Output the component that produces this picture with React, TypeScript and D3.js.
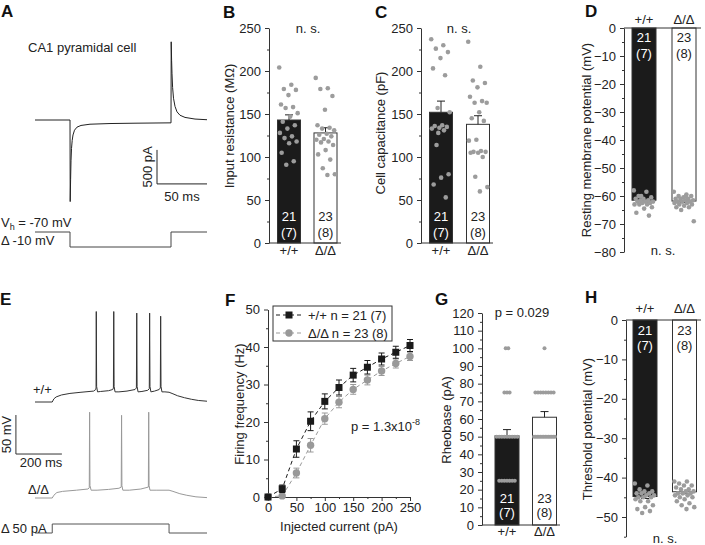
import React, { useEffect, useRef } from 'react';
import * as d3 from 'd3';

const FONT = '"Liberation Sans", Arial, Helvetica, sans-serif';
const INK = '#222';
const DOT = '#9c9c9c';

// ---- group labels ----
const groups = ['+/+', 'Δ/Δ'];
const nCells = [['21', '(7)'], ['23', '(8)']];

// ---- B: input resistance (MΩ) ----
const resMeans = [143, 128];
const resSem = [6, 6];
const resWt = [204, 184, 179, 178, 172, 161, 158, 157, 151, 147, 141, 137, 133, 128, 124, 122, 118, 116, 105, 95, 91];
const resKo = [192, 180, 179, 171, 155, 137, 134, 133, 131, 127, 126, 124, 121, 120, 118, 117, 114, 108, 103, 97, 87, 80, 79];

// ---- C: cell capacitance (pF) ----
const capMeans = [152, 138];
const capSem = [13, 10];
const capWt = [237, 230, 226, 222, 215, 203, 195, 157, 152, 137, 136, 135, 134, 133, 131, 114, 80, 76, 68, 53, 128];
const capKo = [234, 205, 189, 186, 181, 170, 165, 163, 163, 152, 145, 142, 120, 119, 107, 106, 106, 105, 105, 100, 77, 65, 60];

// ---- D: resting membrane potential (mV) ----
const rmpMeans = [-61.5, -61.8];
const rmpSem = [0.7, 0.6];
const rmpWt = [-58, -58.5, -60, -60.5, -61, -61, -61.5, -61.5, -62, -62, -62, -62.5, -62.5, -63, -63, -63, -64, -64.5, -66, -67, -60];
const rmpKo = [-58.5, -59.5, -60, -60, -60.5, -61, -61, -61, -61.5, -61.5, -62, -62, -62, -62.5, -62.5, -63, -63, -63.5, -64, -64, -65, -69, -60];

// ---- F: firing frequency vs injected current ----
const currents = [0, 25, 50, 75, 100, 125, 150, 175, 200, 225, 250];
const freqWt = [0, 2.2, 12.8, 20.2, 25.5, 29.2, 32.5, 34.6, 36.8, 38.6, 40.4];
const freqWtSem = [0, 1.0, 2.2, 2.5, 2.0, 2.0, 1.8, 1.8, 1.6, 1.6, 1.6];
const freqKo = [0, 0.3, 6.4, 13.8, 20.9, 25.3, 28.7, 31.2, 33.6, 35.6, 37.5];
const freqKoSem = [0, 0.3, 1.3, 1.8, 1.5, 1.5, 1.3, 1.3, 1.2, 1.2, 1.1];

// ---- G: rheobase (pA) ----
const rheoMeans = [50.5, 61];
const rheoSem = [3.5, 3.2];
const rheoWt = [100, 100, 75, 75, 75, 50, 50, 50, 50, 50, 50, 50, 50, 50, 25, 25, 25, 25, 25, 25, 25];
const rheoKo = [100, 75, 75, 75, 75, 75, 75, 75, 75, 50, 50, 50, 50, 50, 50, 50, 50, 50, 50, 50, 50, 50, 50];

// ---- H: threshold potential (mV) ----
const thrMeans = [-44.8, -43.6];
const thrSem = [0.5, 0.5];
const thrWt = [-41.5, -42, -43, -43.5, -43.5, -44, -44, -44, -44.5, -44.5, -45, -45, -45, -45.5, -46, -46, -47, -47.5, -48, -48.5, -49];
const thrKo = [-41, -41, -41.5, -42, -42, -42.5, -43, -43, -43.5, -43.5, -44, -44, -44, -44.5, -44.5, -45, -45, -45.5, -46, -46.5, -47, -47.5, -48];

// ---- A: voltage clamp trace (ms, pA) and command (ms, mV) ----
const vcTrace: [number, number][] = [
  [0, 0], [35, 0], [35.2, -1200], [35.6, -880], [36, -600], [36.5, -420], [37.2, -300], [38, -220],
  [39.5, -150], [42, -105], [46, -80], [55, -62], [75, -52], [100, -47], [136, -42],
  [136.2, 1150], [136.6, 880], [137, 680], [137.6, 480], [138.5, 320], [140, 200], [142, 120],
  [145, 70], [150, 38], [160, 14], [172, 4],
];
const vcCommand: [number, number][] = [[0, -70], [35, -70], [35, -80], [136, -80], [136, -70], [172, -70]];

// ---- E: current clamp traces (ms, mV) and step (ms, pA) ----
const ccWt: [number, number][] = [
  [0, -70], [75, -70], [82, -66], [92, -63.5], [115, -61], [152, -59], [200, -57.5], [255, -56], [264, -54],
  [265.5, -52], [266.5, 46], [268, -50], [272, -57], [285, -56.5], [320, -55.5], [338, -54],
  [341, -52], [342.5, 46], [344, -50], [348, -57], [365, -57], [400, -56], [435, -54],
  [441, -52], [442.5, 44], [444, -50], [448, -57], [465, -56.5], [490, -55], [497, -53],
  [498.5, 44], [500, -50], [504, -57], [520, -56], [540, -54], [545, -52],
  [546.5, 40], [548, -50], [552, -57], [565, -57], [583, -57.5],
  [600, -59.5], [620, -62], [650, -64.5], [680, -66.5], [710, -68], [748, -69],
];
const ccKo: [number, number][] = [
  [0, -70], [75, -70], [82, -66.5], [95, -63], [120, -61.5], [180, -60], [230, -58.5], [236, -57],
  [237.5, 40], [239, -54], [244, -60], [270, -60], [320, -59], [365, -57.5], [375, -56],
  [376.5, 36], [378, -54], [382, -60], [410, -60], [460, -58.5], [493, -56],
  [494.5, 40], [496, -54], [500, -60], [530, -60], [583, -60],
  [600, -61.5], [630, -64.5], [660, -66.5], [700, -68.5], [748, -69.5],
];
const ccStep: [number, number][] = [[0, 0], [75, 0], [75, 50], [583, 50], [583, 0], [748, 0]];

type Sel = d3.Selection<any, unknown, null, undefined>;

function label(g: Sel, x: number, y: number, s: string, size = 13, anchor = 'start', fill = INK) {
  return g.append('text')
    .attr('x', x).attr('y', y)
    .attr('font-size', size).attr('font-family', FONT)
    .attr('text-anchor', anchor).attr('fill', fill)
    .text(s);
}

function yTitle(g: Sel, x: number, y: number, s: string) {
  g.append('text')
    .attr('transform', `translate(${x},${y}) rotate(-90)`)
    .attr('font-size', 13).attr('font-family', FONT)
    .attr('text-anchor', 'middle').attr('fill', INK)
    .text(s);
}

function leftAxis(g: Sel, x: number, y: d3.ScaleLinear<number, number>, majors: number[], minors: number[]) {
  const ax = g.append('g')
    .attr('transform', `translate(${x},0)`)
    .call(d3.axisLeft(y).tickValues(majors).tickSize(4).tickPadding(4).tickSizeOuter(0));
  ax.attr('font-size', 13).attr('font-family', FONT).attr('color', '#333');
  ax.selectAll('text').attr('fill', INK);
  const mn = g.append('g')
    .attr('transform', `translate(${x},0)`)
    .call(d3.axisLeft(y).tickValues(minors).tickSize(2).tickFormat(() => ''));
  mn.attr('color', '#333');
  mn.select('.domain').remove();
}

interface BarCfg {
  axisX: number; xEnd: number;
  y: d3.ScaleLinear<number, number>;
  majors: number[]; minors: number[];
  centers: number[]; barW: number;
  means: number[]; sems: number[]; dots: number[][];
  catY: number; countDy: [number, number];
  title: string; titleX: number; titleY: number;
  stack?: boolean;
}

function barPanel(svg: Sel, c: BarCfg) {
  const g = svg.append('g');
  const y0 = c.y(0);
  const neg = c.means[0] < 0;

  c.means.forEach((m, i) => {
    const cx = c.centers[i];
    const top = Math.min(y0, c.y(m));
    g.append('rect')
      .attr('x', cx - c.barW / 2).attr('y', top)
      .attr('width', c.barW).attr('height', Math.abs(c.y(m) - y0))
      .attr('fill', i === 0 ? '#1b1b1b' : '#fff')
      .attr('stroke', '#333').attr('stroke-width', 1);
    const e = neg ? m - c.sems[i] : m + c.sems[i];
    g.append('line').attr('x1', cx).attr('x2', cx).attr('y1', c.y(m)).attr('y2', c.y(e))
      .attr('stroke', '#222');
    g.append('line').attr('x1', cx - 4).attr('x2', cx + 4).attr('y1', c.y(e)).attr('y2', c.y(e))
      .attr('stroke', '#222');
  });

  // individual cells
  c.dots.forEach((vals, i) => {
    const cx = c.centers[i];
    if (c.stack) {
      const byVal = d3.group(vals, v => v);
      byVal.forEach((arr, v) => {
        const spread = Math.min(c.barW - 3, (arr.length - 1) * 2.6);
        arr.forEach((_, k) => {
          const off = arr.length > 1 ? -spread / 2 + (spread * k) / (arr.length - 1) : 0;
          g.append('circle').attr('cx', cx + off).attr('cy', c.y(v)).attr('r', 2).attr('fill', DOT);
        });
      });
    } else {
      vals.forEach((v, k) => {
        const off = (((k * 0.618034) % 1) - 0.5) * c.barW * 0.85;
        g.append('circle').attr('cx', cx + off).attr('cy', c.y(v)).attr('r', 2.3).attr('fill', DOT);
      });
    }
  });

  leftAxis(g, c.axisX, c.y, c.majors, c.minors);
  g.append('line').attr('x1', c.axisX).attr('x2', c.xEnd).attr('y1', y0).attr('y2', y0).attr('stroke', '#333');

  groups.forEach((s, i) => {
    label(g, c.centers[i], c.catY, s, 13, 'middle');
    const fill = i === 0 ? '#fff' : INK;
    label(g, c.centers[i], y0 + c.countDy[0], nCells[i][0], 13, 'middle', fill);
    label(g, c.centers[i], y0 + c.countDy[1], nCells[i][1], 13, 'middle', fill);
  });
  yTitle(g, c.titleX, c.titleY, c.title);
}

function panelLetter(svg: Sel, x: number, y: number, s: string) {
  svg.append('text').attr('x', x).attr('y', y)
    .attr('font-size', 17).attr('font-weight', 'bold').attr('font-family', FONT).attr('fill', '#111')
    .text(s);
}

export default function App() {
  const ref = useRef<SVGSVGElement>(null);

  useEffect(() => {
    const svg = d3.select(ref.current) as unknown as Sel;
    svg.selectAll('*').remove();

    // ---------------- A ----------------
    const aX = d3.scaleLinear().domain([0, 172]).range([35, 207]);
    const aY = d3.scaleLinear().domain([0, -1200]).range([120, 201.6]);
    const vY = d3.scaleLinear().domain([-70, -80]).range([232, 247]);
    const lineA = d3.line<[number, number]>().x(d => aX(d[0])).y(d => aY(d[1]));
    svg.append('path').attr('d', lineA(vcTrace)).attr('fill', 'none').attr('stroke', '#222').attr('stroke-width', 1);
    const lineV = d3.line<[number, number]>().x(d => aX(d[0])).y(d => vY(d[1]));
    svg.append('path').attr('d', lineV(vcCommand)).attr('fill', 'none').attr('stroke', '#444').attr('stroke-width', 1);
    // scale bar 500 pA / 50 ms
    svg.append('path')
      .attr('d', `M${aX(122)},${aY(-440)}V${aY(-940)}H${aX(172)}`)
      .attr('fill', 'none').attr('stroke', '#222');
    svg.append('text').attr('transform', `translate(${aX(122) - 5},${aY(-690)}) rotate(-90)`)
      .attr('font-size', 13).attr('font-family', FONT).attr('text-anchor', 'middle').attr('fill', INK).text('500 pA');
    label(svg, aX(147), aY(-940) + 17, '50 ms', 13, 'middle');
    label(svg, 28, 52, 'CA1 pyramidal cell');
    const vh = label(svg, 1, 227, 'V');
    vh.append('tspan').attr('font-size', 9).attr('dy', 3).text('h');
    vh.append('tspan').attr('dy', -3).text(' = -70 mV');
    label(svg, 1, 245, 'Δ -10 mV');

    // ---------------- B ----------------
    barPanel(svg, {
      axisX: 269, xEnd: 341,
      y: d3.scaleLinear().domain([0, 250]).range([243, 28]),
      majors: d3.range(0, 251, 50), minors: d3.range(25, 250, 50),
      centers: [289, 325.5], barW: 23,
      means: resMeans, sems: resSem, dots: [resWt, resKo],
      catY: 254.5, countDy: [-22, -6.5],
      title: 'Input resistance (MΩ)', titleX: 234, titleY: 126,
    });
    label(svg, 308, 32.5, 'n. s.', 13, 'middle');

    // ---------------- C ----------------
    barPanel(svg, {
      axisX: 421, xEnd: 493,
      y: d3.scaleLinear().domain([0, 250]).range([243, 28]),
      majors: d3.range(0, 251, 50), minors: d3.range(25, 250, 50),
      centers: [441, 478], barW: 23,
      means: capMeans, sems: capSem, dots: [capWt, capKo],
      catY: 254.5, countDy: [-22, -6.5],
      title: 'Cell capacitance (pF)', titleX: 385, titleY: 133,
    });
    label(svg, 459, 32.5, 'n. s.', 13, 'middle');

    // ---------------- D ----------------
    barPanel(svg, {
      axisX: 624, xEnd: 701,
      y: d3.scaleLinear().domain([-80, 0]).range([252, 28]),
      majors: d3.range(-80, 1, 10), minors: d3.range(-75, 0, 10),
      centers: [644, 684], barW: 24,
      means: rmpMeans, sems: rmpSem, dots: [rmpWt, rmpKo],
      catY: 23.5, countDy: [13.5, 29.5],
      title: 'Resting membrane potential (mV)', titleX: 591, titleY: 140,
    });
    label(svg, 663, 254.5, 'n. s.', 13, 'middle');

    // ---------------- E ----------------
    const eX = d3.scaleLinear().domain([0, 748]).range([35, 207]);
    const eYwt = d3.scaleLinear().domain([-70, -20]).range([402, 363]);
    const eYko = d3.scaleLinear().domain([-70, -20]).range([498, 459]);
    const sY = d3.scaleLinear().domain([0, 50]).range([533, 524]);
    svg.append('path').attr('d', d3.line<[number, number]>().x(d => eX(d[0])).y(d => eYwt(d[1]))(ccWt))
      .attr('fill', 'none').attr('stroke', '#333').attr('stroke-width', 1);
    svg.append('path').attr('d', d3.line<[number, number]>().x(d => eX(d[0])).y(d => eYko(d[1]))(ccKo))
      .attr('fill', 'none').attr('stroke', '#999').attr('stroke-width', 1);
    svg.append('path').attr('d', d3.line<[number, number]>().x(d => eX(d[0])).y(d => sY(d[1]))(ccStep))
      .attr('fill', 'none').attr('stroke', '#555').attr('stroke-width', 1);
    // scale bar 50 mV / 200 ms
    svg.append('path')
      .attr('d', `M${eX(-83)},${eYwt(-86.7)}V${eYwt(-136.7)}H${eX(117)}`)
      .attr('fill', 'none').attr('stroke', '#333');
    svg.append('text').attr('transform', `translate(${eX(-83) - 5},${eYwt(-111.7)}) rotate(-90)`)
      .attr('font-size', 13).attr('font-family', FONT).attr('text-anchor', 'middle').attr('fill', INK).text('50 mV');
    label(svg, 41, 467, '200 ms', 13, 'middle');
    label(svg, 33, 394, '+/+');
    label(svg, 28, 494, 'Δ/Δ');
    label(svg, 1, 533, 'Δ 50 pA');

    // ---------------- F ----------------
    const fX = d3.scaleLinear().domain([0, 250]).range([268, 410]);
    const fY = d3.scaleLinear().domain([0, 50]).range([497, 309.5]);
    const fg = svg.append('g');
    const fx = fg.append('g').attr('transform', 'translate(0,497)')
      .call(d3.axisBottom(fX).tickValues(d3.range(0, 251, 50)).tickSize(4).tickPadding(2).tickSizeOuter(0));
    fx.attr('font-size', 13).attr('font-family', FONT).attr('color', '#333');
    fx.selectAll('text').attr('fill', INK);
    const fxm = fg.append('g').attr('transform', 'translate(0,497)')
      .call(d3.axisBottom(fX).tickValues(d3.range(25, 250, 50)).tickSize(2).tickFormat(() => ''));
    fxm.attr('color', '#333');
    fxm.select('.domain').remove();
    leftAxis(fg, 268, fY, d3.range(0, 51, 10), d3.range(5, 50, 10));

    const series = [
      { v: freqWt, e: freqWtSem, color: '#1a1a1a', sq: true },
      { v: freqKo, e: freqKoSem, color: '#999', sq: false },
    ];
    series.slice().reverse().forEach(s => {
      const pts = currents.map((c, i) => [c, s.v[i]] as [number, number]);
      fg.append('path').attr('d', d3.line<[number, number]>().x(d => fX(d[0])).y(d => fY(d[1]))(pts))
        .attr('fill', 'none').attr('stroke', s.color).attr('stroke-dasharray', '4,3').attr('stroke-width', 1);
      currents.forEach((c, i) => {
        if (s.e[i] > 0.4) {
          const x = fX(c);
          fg.append('path')
            .attr('d', `M${x - 3},${fY(s.v[i] + s.e[i])}H${x + 3}M${x},${fY(s.v[i] + s.e[i])}V${fY(s.v[i] - s.e[i])}M${x - 3},${fY(s.v[i] - s.e[i])}H${x + 3}`)
            .attr('stroke', s.color).attr('fill', 'none');
        }
      });
      currents.forEach((c, i) => {
        if (s.sq) {
          fg.append('rect').attr('x', fX(c) - 3.5).attr('y', fY(s.v[i]) - 3.5).attr('width', 7).attr('height', 7).attr('fill', s.color);
        } else {
          fg.append('circle').attr('cx', fX(c)).attr('cy', fY(s.v[i])).attr('r', 3.7).attr('fill', s.color);
        }
      });
    });
    // legend
    fg.append('rect').attr('x', 273).attr('y', 306).attr('width', 119).attr('height', 35)
      .attr('fill', '#fff').attr('stroke', '#333');
    series.forEach((s, i) => {
      const ly = 315 + i * 18;
      fg.append('line').attr('x1', 276).attr('x2', 302).attr('y1', ly).attr('y2', ly)
        .attr('stroke', s.color).attr('stroke-dasharray', '4,3');
      if (s.sq) fg.append('rect').attr('x', 285.5).attr('y', ly - 3.5).attr('width', 7).attr('height', 7).attr('fill', s.color);
      else fg.append('circle').attr('cx', 289).attr('cy', ly).attr('r', 3.7).attr('fill', s.color);
      label(fg, 308, ly + 4.5, `${groups[i]} n = ${nCells[i][0]} ${nCells[i][1]}`);
    });
    const pt = label(fg, 351, 430.5, 'p = 1.3x10');
    pt.append('tspan').attr('font-size', 9).attr('dy', -6).text('-8');
    yTitle(fg, 244, 404, 'Firing frequency (Hz)');
    label(fg, 339, 531, 'Injected current (pA)', 13, 'middle');

    // ---------------- G ----------------
    barPanel(svg, {
      axisX: 482, xEnd: 560,
      y: d3.scaleLinear().domain([0, 120]).range([525, 313]),
      majors: d3.range(0, 121, 10), minors: d3.range(5, 120, 10),
      centers: [507, 544.5], barW: 24,
      means: rheoMeans, sems: rheoSem, dots: [rheoWt, rheoKo],
      catY: 536, countDy: [-22, -8], stack: true,
      title: 'Rheobase (pA)', titleX: 451, titleY: 420,
    });
    label(svg, 522, 316.5, 'p = 0.029', 13, 'middle');

    // ---------------- H ----------------
    barPanel(svg, {
      axisX: 626, xEnd: 701,
      y: d3.scaleLinear().domain([-55, 0]).range([536.7, 320]),
      majors: d3.range(-50, 1, 10), minors: d3.range(-55, 0, 10),
      centers: [645, 684.5], barW: 24,
      means: thrMeans, sems: thrSem, dots: [thrWt, thrKo],
      catY: 312.5, countDy: [14.5, 29.5],
      title: 'Threshold potential (mV)', titleX: 592, titleY: 429,
    });
    label(svg, 665, 542.5, 'n. s.', 13, 'middle');

    // panel letters
    panelLetter(svg, 1, 17, 'A');
    panelLetter(svg, 223, 18, 'B');
    panelLetter(svg, 375, 18, 'C');
    panelLetter(svg, 585, 17, 'D');
    panelLetter(svg, 0, 305, 'E');
    panelLetter(svg, 225, 306, 'F');
    panelLetter(svg, 435, 305, 'G');
    panelLetter(svg, 585, 303, 'H');
  }, []);

  return (
    <svg ref={ref} width={705} height={545}
      style={{ position: 'absolute', left: 0, top: 0, background: '#fff' }} />
  );
}
